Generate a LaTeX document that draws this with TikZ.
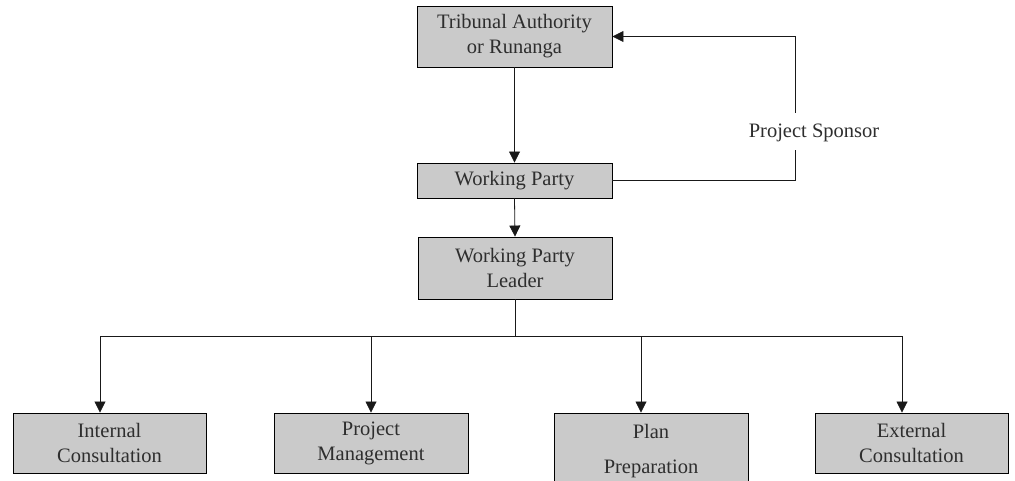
\documentclass[tikz,border=0pt]{standalone}
\usepackage{fontspec}
\setmainfont{Liberation Serif}
\usetikzlibrary{arrows.meta}
\definecolor{boxfill}{HTML}{CACACA}
\definecolor{txt}{HTML}{2E2E2E}
\begin{document}
\begin{tikzpicture}[x=1pt,y=-1pt,
  box/.style={draw=black, line width=0.9pt, fill=boxfill, text=txt, align=center,
    inner sep=0pt, font=\fontsize{20.5}{25}\selectfont},
  conn/.style={line width=0.8pt, draw=black!90},
  arr/.style={conn, -{Triangle[length=11pt,width=11pt]}},
  lbl/.style={text=txt, inner sep=1pt, font=\fontsize{20.5}{25}\selectfont}]
\useasboundingbox (0,0) rectangle (1015,481);
\clip (0,0) rectangle (1015,481);
\node[box, minimum width=195pt, minimum height=61pt] (trib) at (514.5,36.5) {Tribunal Authority\\or Runanga};
\node[box, minimum width=195pt, minimum height=35pt] (wp) at (514.5,180.5) {Working Party};
\node[box, minimum width=194pt, minimum height=62pt] (wpl) at (515,268) {Working Party\\Leader};
\node[box, minimum width=193pt, minimum height=60pt] (ic) at (109.5,443) {Internal\\Consultation};
\node[box, minimum width=194pt, minimum height=60pt] (pm) at (371,443) {Project\\Management};
\node[box, minimum width=194pt, minimum height=76pt] (pp) at (651,451) {Plan\\[10pt]Preparation};
\node[box, minimum width=193pt, minimum height=60pt] (ec) at (911.5,443) {External\\Consultation};
\node[lbl] (sponsor) at (814,133) {Project Sponsor};
\coordinate (sp1) at (795,150);
\coordinate (sp2) at (795,113);
\coordinate (junc) at (515,336);
\coordinate (j1) at (100,336);
\coordinate (j2) at (371,336);
\coordinate (j3) at (641,336);
\coordinate (j4) at (902,336);
\draw[arr] (trib.south) -- (wp.north);
\draw[arr] (wp.south) -- (wpl.north);
\draw[conn] (wpl.south) -- (junc);
\draw[conn] (j1) -- (j4);
\draw[arr] (j1) -- (j1 |- ic.north);
\draw[arr] (j2) -- (j2 |- pm.north);
\draw[arr] (j3) -- (j3 |- pp.north);
\draw[arr] (j4) -- (j4 |- ec.north);
\draw[conn] (wp.east) -| (sp1);
\draw[arr] (sp2) |- (trib.east);
\end{tikzpicture}
\end{document}
